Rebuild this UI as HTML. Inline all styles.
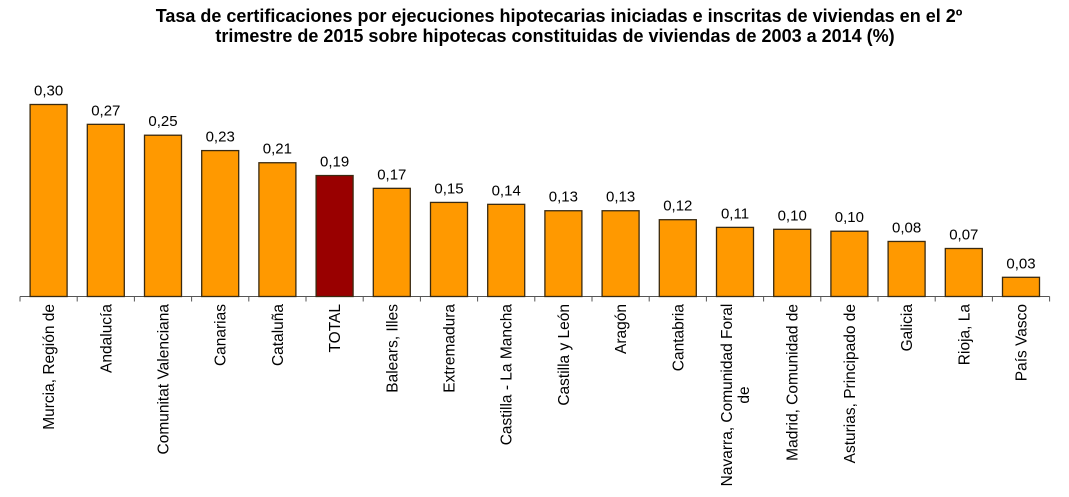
<!DOCTYPE html>
<html><head><meta charset="utf-8"><style>
body{margin:0;background:#fff;}
svg{display:block;font-family:"Liberation Sans",Arial,sans-serif;}
</style></head><body>
<svg id="chart" width="1069" height="497" viewBox="0 0 1069 497">
<text x="559" y="22" text-anchor="middle" font-weight="bold" font-size="18">Tasa de certificaciones por ejecuciones hipotecarias iniciadas e inscritas de viviendas en el 2º</text>
<text x="555" y="42" text-anchor="middle" font-weight="bold" font-size="18">trimestre de 2015 sobre hipotecas constituidas de viviendas de 2003 a 2014 (%)</text>
<g id="bars"></g>
</svg>
<script>
const categories=["Murcia, Región de","Andalucía","Comunitat Valenciana","Canarias","Cataluña","TOTAL","Balears, Illes","Extremadura","Castilla - La Mancha","Castilla y León","Aragón","Cantabria","Navarra, Comunidad Foral|de","Madrid, Comunidad de","Asturias, Principado de","Galicia","Rioja, La","País Vasco"];
const values=[0.300,0.269,0.252,0.228,0.209,0.189,0.169,0.147,0.144,0.134,0.134,0.120,0.108,0.105,0.102,0.086,0.075,0.030];
const valueLabels=["0,30","0,27","0,25","0,23","0,21","0,19","0,17","0,15","0,14","0,13","0,13","0,12","0,11","0,10","0,10","0,08","0,07","0,03"];
const NS="http://www.w3.org/2000/svg";
const g=document.getElementById('bars');
const x0=20,step=57.2,base=296.5,scale=640,bw=37;
const xPos=i=>x0+step*(i+0.5);
const yPos=v=>base-v*scale;
function mk(t,a){const e=document.createElementNS(NS,t);for(const k in a)e.setAttribute(k,a[k]);g.appendChild(e);return e;}
const n=categories.length;
const ax=mk('line',{x1:x0,y1:base,x2:x0+step*n,y2:base,stroke:'#555','stroke-width':1});


for(let i=0;i<=n;i++){
 const t=mk('line',{x1:x0+step*i,y1:base,x2:x0+step*i,y2:base+5,stroke:'#555','stroke-width':1});
 
 
}
categories.forEach((c,i)=>{
 const cx=xPos(i),y=yPos(values[i]);
 const r=mk('rect',{x:cx-bw/2,y:y,width:bw,height:base-y,fill:c==='TOTAL'?'#990000':'#FF9900',stroke:'#3a2a10','stroke-width':1.3});
 
 
 const vl=mk('text',{x:cx,y:y-9,'text-anchor':'middle','font-size':15});
 vl.textContent=valueLabels[i];
 
 
 const parts=c.split('|');
 let lbl;
 if(parts.length===1){
  lbl=mk('text',{transform:`translate(${cx+5.5},304) rotate(-90)`,'text-anchor':'end','font-size':15.5});
  lbl.textContent=c;
 }else{
  lbl=mk('text',{transform:`translate(${cx},395) rotate(-90)`,'text-anchor':'middle','font-size':15.5});
  parts.forEach((p,k)=>{const ts=document.createElementNS(NS,'tspan');ts.setAttribute('x',0);ts.setAttribute('y',k===0?-3:14);ts.textContent=p;lbl.appendChild(ts);});
 }
 
 
});
</script>
</body></html>
